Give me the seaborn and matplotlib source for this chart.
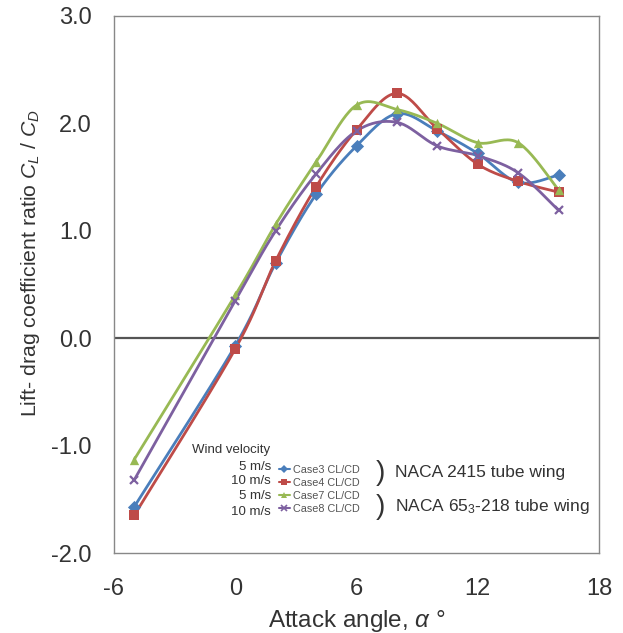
import numpy as np
import pandas as pd
import matplotlib
matplotlib.use("Agg")
import matplotlib.pyplot as plt
from matplotlib.lines import Line2D
import seaborn as sns

sns.set_style("white")
plt.rcParams['font.family'] = ['Liberation Sans', 'DejaVu Sans']
plt.rcParams['mathtext.fontset'] = 'custom'
plt.rcParams['mathtext.rm'] = 'Liberation Sans'
plt.rcParams['mathtext.it'] = 'Liberation Sans:italic'
plt.rcParams['axes.unicode_minus'] = False

# attack angle (deg) and CL/CD
angle = [-5, 0, 2, 4, 6, 8, 10, 12, 14, 16]
case3 = [-1.57, -0.07, 0.70, 1.34, 1.79, 2.09, 1.93, 1.72, 1.45, 1.52]
case4 = [-1.65, -0.10, 0.72, 1.41, 1.94, 2.28, 1.95, 1.62, 1.46, 1.36]
case7 = [-1.13, 0.40, 1.06, 1.64, 2.17, 2.13, 2.00, 1.82, 1.82, 1.38]
case8 = [-1.32, 0.35, 1.00, 1.53, 1.93, 2.01, 1.79, 1.70, 1.54, 1.19]

case_names = ["Case3 CL/CD", "Case4 CL/CD", "Case7 CL/CD", "Case8 CL/CD"]
velocities = ["5 m/s", "10 m/s", "5 m/s", "10 m/s"]
colors = ["#4a7ebb", "#be4b48", "#98b954", "#7d60a0"]
markers = ["D", "s", "^", "x"]


def smooth(x, y, n=24):
    # excel-like smoothed line (catmull-rom bezier through the points)
    p = np.column_stack([x, y]).astype(float)
    p = np.vstack([p[0], p, p[-1]])
    out = []
    for i in range(1, len(p) - 2):
        p0, p1, p2, p3 = p[i - 1], p[i], p[i + 1], p[i + 2]
        c1 = p1 + (p2 - p0) / 6
        c2 = p2 - (p3 - p1) / 6
        t = np.linspace(0, 1, n)[:, None]
        seg = (1 - t) ** 3 * p1 + 3 * (1 - t) ** 2 * t * c1 + 3 * (1 - t) * t ** 2 * c2 + t ** 3 * p2
        out.append(seg if i == 1 else seg[1:])
    out = np.vstack(out)
    return out[:, 0], out[:, 1]


fig = plt.figure(figsize=(6.23, 6.33), dpi=100)
ax = fig.add_axes([114 / 623, 1 - 553 / 633, 485 / 623, 537 / 633])

ax.axhline(0, color="#555555", lw=1.6, zorder=1)

handles = []
for name, vals, c, m in zip(case_names, [case3, case4, case7, case8], colors, markers):
    sx, sy = smooth(angle, vals)
    sns.lineplot(x=sx, y=sy, ax=ax, color=c, lw=2.0, sort=False, estimator=None, zorder=3)
    df = pd.DataFrame({"angle": angle, "val": vals})
    if m == "x":
        ax.plot(df["angle"], df["val"], ls="none", marker=m, ms=6, mew=1.6, color=c, zorder=4)
    else:
        sns.scatterplot(data=df, x="angle", y="val", ax=ax, marker=m, s=45, color=c,
                        edgecolor=c, linewidth=0, zorder=4)
    handles.append(Line2D([], [], color=c, lw=1.5, marker=m, ms=4.5, mew=1.2 if m == "x" else 0))

ax.set_xlim(-6, 18)
ax.set_ylim(-2, 3)
ax.set_xticks([-6, 0, 6, 12, 18])
ax.set_yticks([-2, -1, 0, 1, 2, 3])
ax.set_yticklabels([f"{v:.1f}" for v in [-2, -1, 0, 1, 2, 3]])
ax.tick_params(direction="in", length=3, width=0.8, colors="#888888", labelcolor="#333333",
               labelsize=17)
ax.tick_params(axis="y", pad=16)
ax.tick_params(axis="x", pad=18)
for s in ax.spines.values():
    s.set_color("#888888")
    s.set_linewidth(1.0)

ax.set_xlabel(r"Attack angle, $\alpha$ °", fontsize=17.5, color="#333333", labelpad=6)
ax.set_ylabel(r"Lift- drag coefficient ratio $C_L$ / $C_D$", fontsize=15.3, color="#333333")
ax.yaxis.set_label_coords(-0.149, 0.54)

leg = ax.legend(handles, case_names, loc="center left", bbox_to_anchor=(279 / 623, 1 - 489.5 / 633),
                bbox_transform=fig.transFigure, frameon=False, fontsize=7.8, handlelength=1.0,
                handletextpad=0.3, labelspacing=0.28, borderpad=0, borderaxespad=0)
for t in leg.get_texts():
    t.set_color("#555555")

fig.text(192 / 623, 1 - 450 / 633, "Wind velocity", fontsize=9.5, color="#333333", va="center")
for v, yp in zip(velocities, [467, 481, 496, 512]):
    fig.text(271 / 623, 1 - yp / 633, v, fontsize=9.5, color="#333333", va="center", ha="right")
fig.text(376 / 623, 1 - 473 / 633, ")", fontsize=20, color="#333333", va="center")
fig.text(376 / 623, 1 - 507 / 633, ")", fontsize=20, color="#333333", va="center")
fig.text(395 / 623, 1 - 473 / 633, "NACA 2415 tube wing", fontsize=12.5, color="#333333", va="center")
fig.text(395 / 623, 1 - 507 / 633, r"NACA 65$_3$-218 tube wing", fontsize=12.5, color="#333333", va="center")

fig.savefig("out.png", dpi=100)
